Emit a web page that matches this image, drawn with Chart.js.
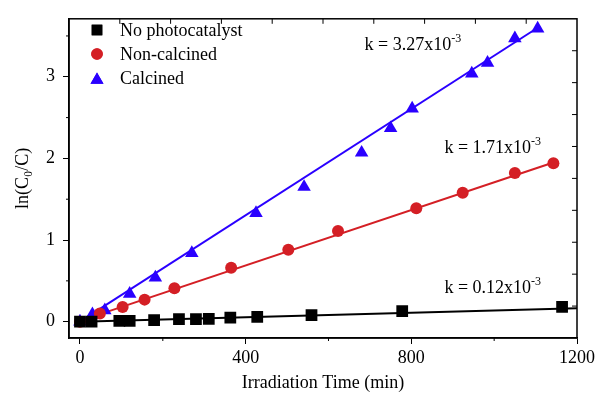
<!DOCTYPE html>
<html lang="en">
<head>
  <meta charset="UTF-8">
  <title>ln(C0/C) vs irradiation time</title>
  <script src="https://cdn.jsdelivr.net/npm/chart.js"></script>
  <style>
    html, body { margin: 0; padding: 0; background: #fff; }
    #wrap { width: 598px; height: 397px; }
  </style>
</head>
<body>
<div id="wrap"><canvas id="kinChart" width="598" height="397"></canvas></div>

<script>
// measured points (time in min, ln(C0/C))
const noCatTime = [0, 28, 95, 120, 179, 239, 280, 311, 363, 428, 559, 778, 1164];
const noCatVal  = [0, 0, 0.01, 0.01, 0.02, 0.03, 0.03, 0.035, 0.05, 0.06, 0.08, 0.13, 0.18];

const nonCalcTime = [0, 48, 103, 156, 228, 365, 503, 623, 812, 924, 1050, 1143];
const nonCalcVal  = [0, 0.10, 0.18, 0.27, 0.41, 0.66, 0.88, 1.11, 1.39, 1.58, 1.82, 1.94];

const calcTime = [0, 30, 60, 120, 182, 270, 425, 541, 680, 750, 802, 946, 984, 1050, 1105];
const calcVal  = [0, 0.09, 0.14, 0.34, 0.54, 0.84, 1.33, 1.65, 2.07, 2.37, 2.61, 3.04, 3.17, 3.47, 3.59];

// fitted lines, end points
const noCatFitTime = [0, 1200];
const noCatFitVal  = [0, 0.165];
const nonCalcFitTime = [0, 1143];
const nonCalcFitVal  = [0.01, 1.95];
const calcFitTime = [0, 1105];
const calcFitVal  = [0, 3.6];

const seriesNames = ["No photocatalyst", "Non-calcined", "Calcined"];
const rateLabels = ["0.12", "1.71", "3.27"];
// anchor of each rate label (time, value)
const rateAnchorTime = [880, 880, 687];
const rateAnchorVal  = [0.35, 2.07, 3.33];

const xTicks = [0, 400, 800, 1200];
const xMinor = [200, 600, 1000];
const yTicks = [0, 1, 2, 3];
const yMinor = [0.5, 1.5, 2.5, 3.5];

const BLACK = "#000000";
const RED = "#d41f25";
const BLUE = "#2a00ff";
const FONT = "'Liberation Serif', 'Times New Roman', serif";

const toXY = (xs, ys) => xs.map((x, i) => ({ x: x, y: ys[i] }));

const markers = [
  { style: "rect", radius: 8.3, legend: 7.5, color: BLACK },
  { style: "circle", radius: 6, legend: 5.8, color: RED },
  { style: "triangle", radius: 7.8, legend: 7.5, color: BLUE }
];

function pointSet(label, xs, ys, m) {
  return {
    label: label, data: toXY(xs, ys), showLine: false,
    pointStyle: m.style, pointRadius: m.radius, pointHoverRadius: m.radius,
    backgroundColor: m.color, borderColor: m.color, borderWidth: 0
  };
}

function fitSet(xs, ys, color) {
  return {
    label: "fit", data: toXY(xs, ys), showLine: true, pointRadius: 0,
    borderColor: color, borderWidth: 2, fill: false
  };
}

// frame, inner ticks on top/right, minor ticks, legend and k labels
const decorations = {
  id: "decorations",
  afterDraw(chart) {
    const ctx = chart.ctx;
    const a = chart.chartArea;
    const xs = chart.scales.x, ys = chart.scales.y;
    ctx.save();
    ctx.strokeStyle = BLACK;
    ctx.lineWidth = 1.5;
    ctx.strokeRect(a.left, a.top, a.right - a.left, a.bottom - a.top);

    ctx.lineWidth = 1;
    ctx.beginPath();
    for (let i = 1; i < 10; i++) {
      const px = a.left + i * (a.right - a.left) / 10;
      ctx.moveTo(px, a.top); ctx.lineTo(px, a.top + 5);
      const py = a.bottom - i * (a.bottom - a.top) / 10;
      ctx.moveTo(a.right, py); ctx.lineTo(a.right - 5, py);
    }
    xMinor.forEach(v => {
      const px = xs.getPixelForValue(v);
      ctx.moveTo(px, a.bottom); ctx.lineTo(px, a.bottom + 3);
    });
    yMinor.forEach(v => {
      const py = ys.getPixelForValue(v);
      ctx.moveTo(a.left, py); ctx.lineTo(a.left - 3, py);
    });
    ctx.stroke();

    // legend
    ctx.fillStyle = BLACK;
    ctx.font = "18px " + FONT;
    ctx.textBaseline = "alphabetic";
    ctx.textAlign = "left";
    const rowY = [30, 54, 78.5];
    seriesNames.forEach((name, i) => {
      const m = markers[i];
      ctx.fillStyle = m.color;
      ctx.strokeStyle = m.color;
      Chart.helpers.drawPoint(ctx, { pointStyle: m.style, radius: m.legend, borderWidth: 0 }, 97, rowY[i] + (m.style === "triangle" ? 1.5 : 0));
      ctx.fill();
      ctx.fillStyle = BLACK;
      ctx.fillText(name, 120, rowY[i] + 5.5);
    });

    // rate constants
    rateLabels.forEach((k, i) => {
      const px = xs.getPixelForValue(rateAnchorTime[i]);
      const py = ys.getPixelForValue(rateAnchorVal[i]);
      ctx.font = "18px " + FONT;
      const main = "k = " + k + "x10";
      ctx.fillText(main, px, py);
      const w = ctx.measureText(main).width;
      ctx.font = "12px " + FONT;
      ctx.fillText("-3", px + w, py - 8);
    });
    ctx.restore();
  }
};

new Chart(document.getElementById("kinChart"), {
  type: "scatter",
  data: {
    datasets: [
      pointSet(seriesNames[0], noCatTime, noCatVal, markers[0]),
      pointSet(seriesNames[1], nonCalcTime, nonCalcVal, markers[1]),
      pointSet(seriesNames[2], calcTime, calcVal, markers[2]),
      fitSet(noCatFitTime, noCatFitVal, BLACK),
      fitSet(nonCalcFitTime, nonCalcFitVal, RED),
      fitSet(calcFitTime, calcFitVal, BLUE)
    ]
  },
  options: {
    responsive: false,
    animation: false,
    layout: { padding: { top: 14, right: 19, left: 0, bottom: 0 } },
    plugins: { legend: { display: false }, tooltip: { enabled: false } },
    scales: {
      x: {
        type: "linear", min: -26.5, max: 1200,
        afterBuildTicks: s => { s.ticks = xTicks.map(v => ({ value: v })); },
        afterFit: s => { s.height = 59; },
        grid: { drawOnChartArea: false, tickLength: 6, color: BLACK, tickColor: BLACK },
        border: { color: BLACK, width: 1.5 },
        ticks: { color: BLACK, font: { family: FONT, size: 18 }, padding: 3, maxRotation: 0,
                 callback: v => String(v) },
        title: { display: true, text: "Irradiation Time (min)", color: BLACK,
                 font: { family: FONT, size: 18 }, padding: { top: 0, bottom: 3 } }
      },
      y: {
        type: "linear", min: -0.2, max: 3.71,
        afterBuildTicks: s => { s.ticks = yTicks.map(v => ({ value: v })); },
        afterFit: s => { s.width = 69; },
        grid: { drawOnChartArea: false, tickLength: 6, color: BLACK, tickColor: BLACK },
        border: { color: BLACK, width: 1.5 },
        ticks: { color: BLACK, font: { family: FONT, size: 18 }, padding: 8,
                 callback: v => String(v) },
        title: { display: true, text: "ln(C\u2080/C)", color: BLACK,
                 font: { family: FONT, size: 18 }, padding: { top: 12, bottom: 0 } }
      }
    }
  },
  plugins: [decorations]
});
</script>
</body>
</html>
